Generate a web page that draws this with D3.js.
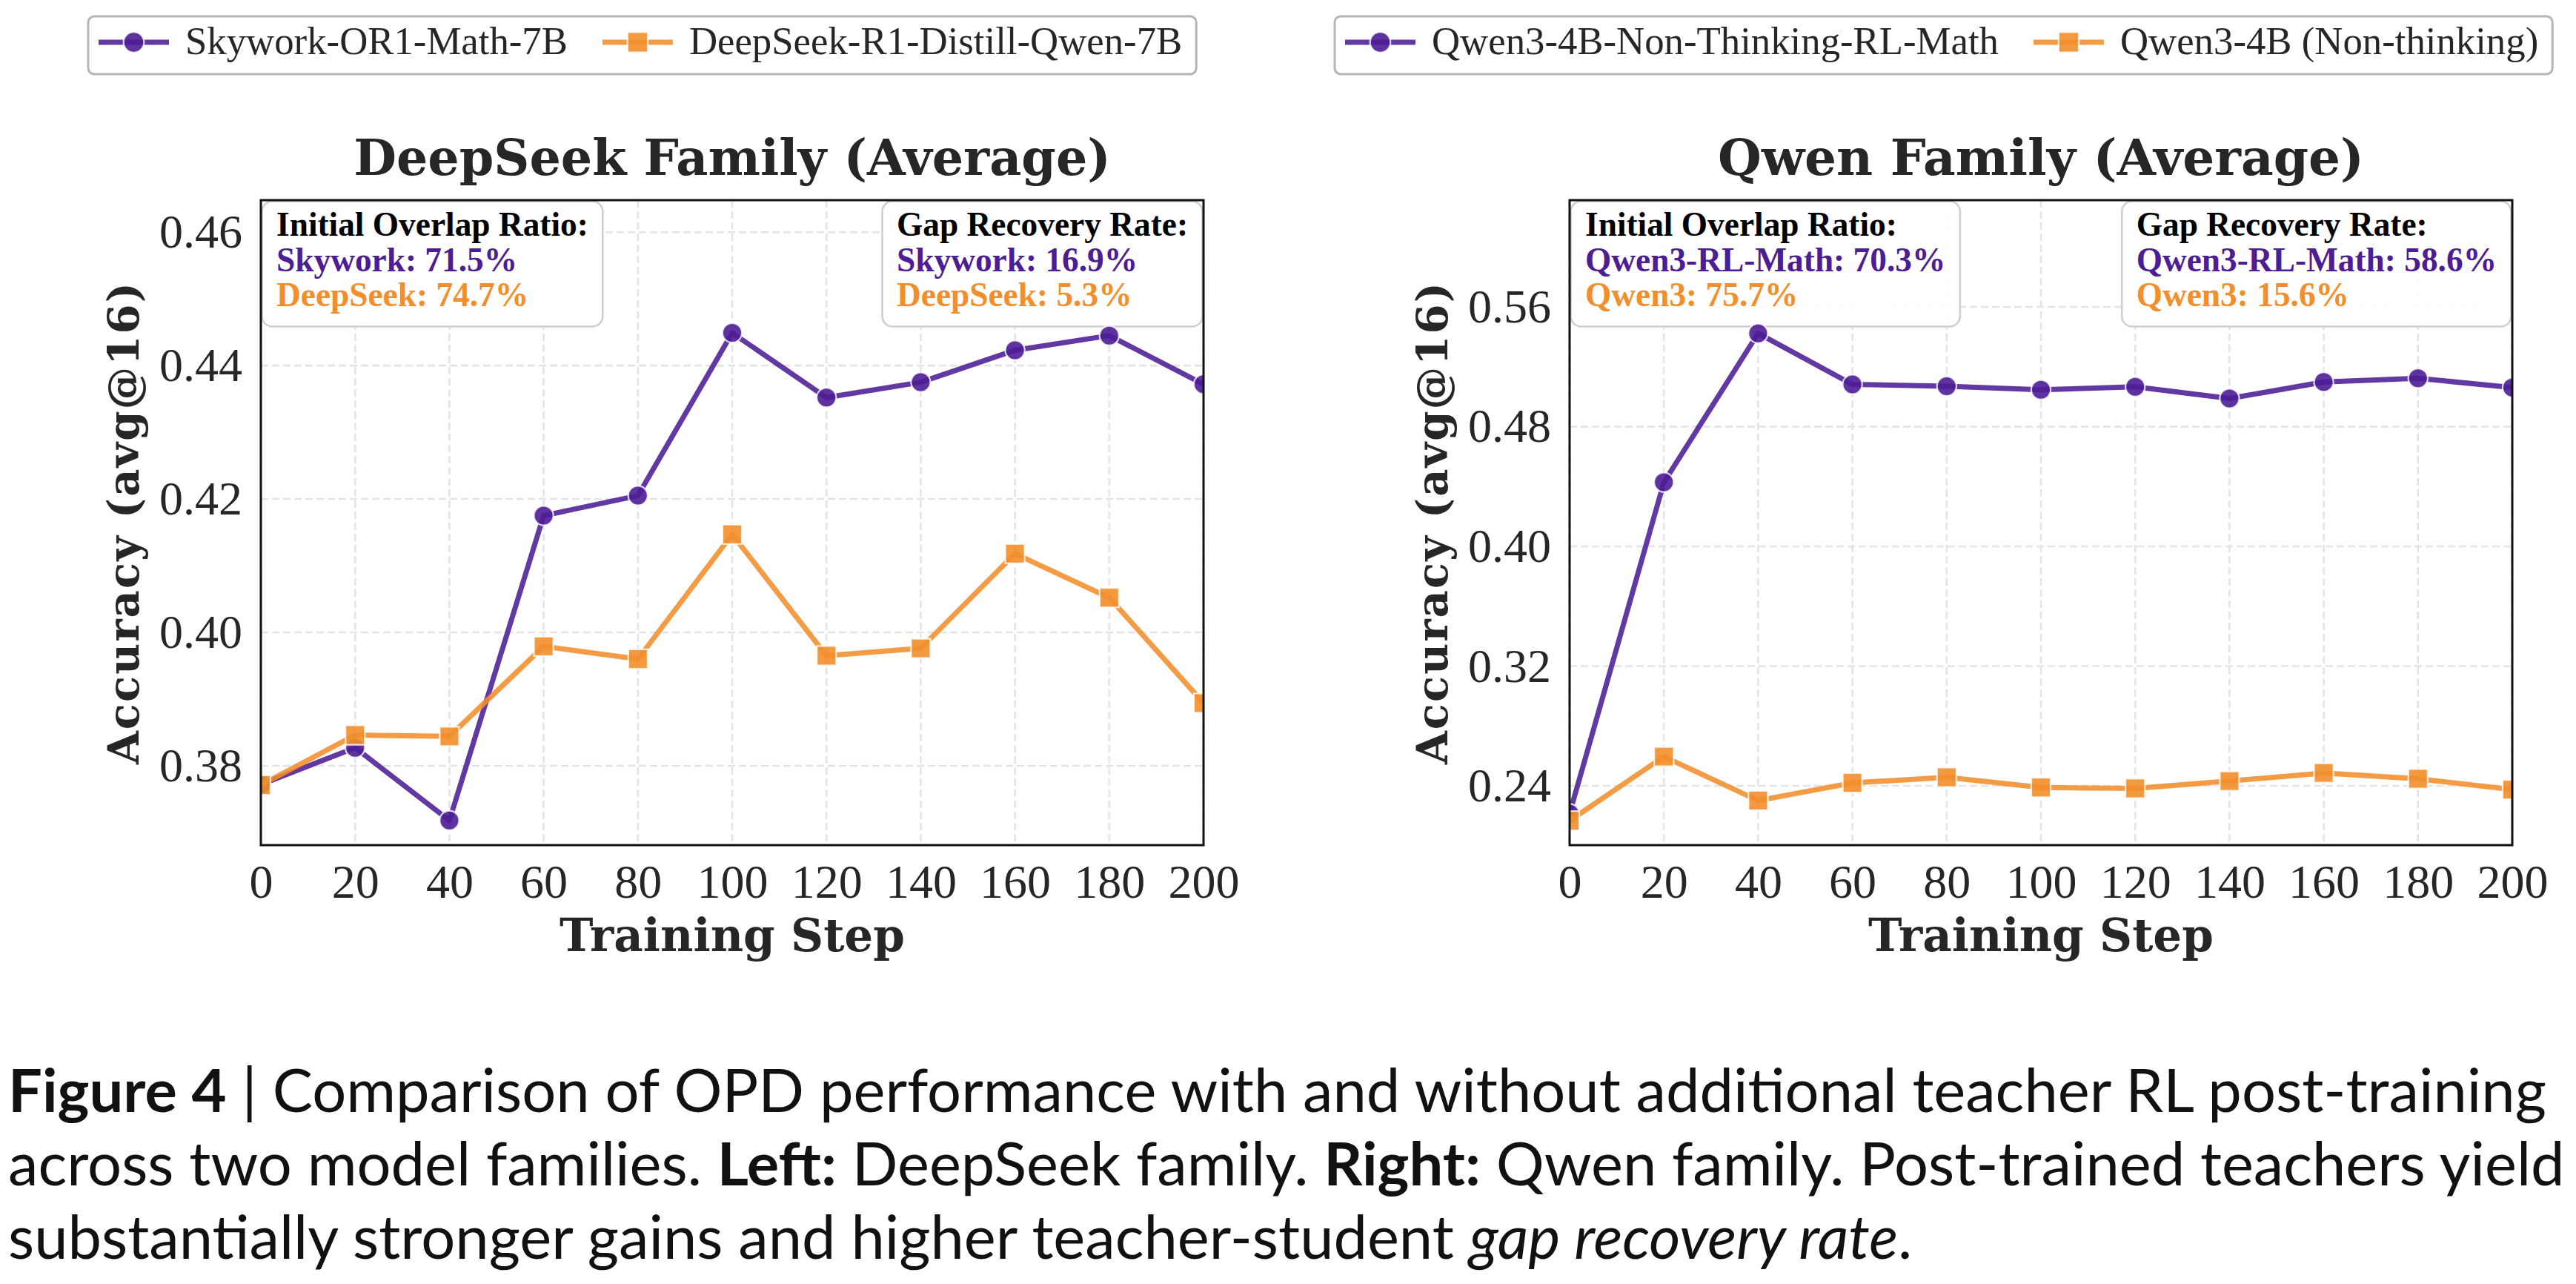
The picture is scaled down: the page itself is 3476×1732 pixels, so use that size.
<!DOCTYPE html>
<html><head><meta charset="utf-8">
<script src="https://cdn.jsdelivr.net/npm/d3@7"></script>
<style>body{margin:0;background:#fff}svg{display:block}</style>
</head><body>
<svg id="chart" width="3476" height="1732"></svg>
<script>
// ---------------- data ----------------
const steps = [0, 20, 40, 60, 80, 100, 120, 140, 160, 180, 200];
const skyworkAcc  = [0.3772, 0.3827, 0.3718, 0.4175, 0.4205, 0.4449, 0.4352, 0.4375, 0.4423, 0.4445, 0.4372];
const deepseekAcc = [0.3771, 0.3846, 0.3844, 0.3979, 0.3960, 0.4147, 0.3965, 0.3976, 0.4118, 0.4052, 0.3894];
const qwenRLAcc   = [0.2215, 0.4428, 0.5423, 0.5082, 0.5070, 0.5046, 0.5066, 0.4988, 0.5098, 0.5123, 0.5061];
const qwenBaseAcc = [0.2167, 0.2595, 0.2302, 0.2420, 0.2457, 0.2389, 0.2383, 0.2432, 0.2486, 0.2447, 0.2375];
const xTickValues = [0, 20, 40, 60, 80, 100, 120, 140, 160, 180, 200];
const leftYTicks  = [0.38, 0.40, 0.42, 0.44, 0.46];
const rightYTicks = [0.24, 0.32, 0.40, 0.48, 0.56];
const leftSeriesNames  = ["Skywork-OR1-Math-7B", "DeepSeek-R1-Distill-Qwen-7B"];
const rightSeriesNames = ["Qwen3-4B-Non-Thinking-RL-Math", "Qwen3-4B (Non-thinking)"];
const leftOverlap  = ["Initial Overlap Ratio:", "Skywork: 71.5%", "DeepSeek: 74.7%"];
const leftGap      = ["Gap Recovery Rate:", "Skywork: 16.9%", "DeepSeek: 5.3%"];
const rightOverlap = ["Initial Overlap Ratio:", "Qwen3-RL-Math: 70.3%", "Qwen3: 75.7%"];
const rightGap     = ["Gap Recovery Rate:", "Qwen3-RL-Math: 58.6%", "Qwen3: 15.6%"];
const titles = ["DeepSeek Family (Average)", "Qwen Family (Average)"];
const xLabel = "Training Step";
const yLabel = "Accuracy (avg@16)";

// ---------------- style ----------------
const PURPLE = "#4C1D95", ORANGE = "#F28E2B", INK = "#262626";
const SERIF = "'Liberation Serif', 'DejaVu Serif', serif";
const SERIF_B = "'DejaVu Serif', 'Liberation Serif', serif";
const svg = d3.select("#chart");
const defs = svg.append("defs");

function fitSize(sel, target) {
  const w = sel.node().getBBox().width;
  return +sel.attr("font-size") * target / w;
}

const panels = [
  {id: "L", x0: 352, x1: 1624, y0: 270, y1: 1140, yDomain: [0.3681, 0.4648], yTicks: leftYTicks,
   series: [skyworkAcc, deepseekAcc], names: leftSeriesNames, boxes: [leftOverlap, leftGap],
   title: titles[0], titleW: 1022, yLabX: 187, legX: 133},
  {id: "R", x0: 2118, x1: 3390, y0: 270, y1: 1140, yDomain: [0.2004, 0.6313], yTicks: rightYTicks,
   series: [qwenRLAcc, qwenBaseAcc], names: rightSeriesNames, boxes: [rightOverlap, rightGap],
   title: titles[1], titleW: 872, yLabX: 1953, legX: 1815}
];

let annFont = null, legFont = null, labFont = null;

panels.forEach(p => {
  const g = svg.append("g");
  const x = d3.scaleLinear().domain([0, 200]).range([p.x0, p.x1]);
  const y = d3.scaleLinear().domain(p.yDomain).range([p.y1, p.y0]);
  const cx = (p.x0 + p.x1) / 2;

  defs.append("clipPath").attr("id", "clip" + p.id).append("rect")
    .attr("x", p.x0).attr("y", p.y0).attr("width", p.x1 - p.x0).attr("height", p.y1 - p.y0);

  // grid
  const grid = g.append("g").attr("stroke", "#e4e4e4").attr("stroke-width", 2.6).attr("stroke-dasharray", "10,5");
  grid.selectAll(".vg").data(xTickValues).join("line")
    .attr("x1", d => x(d)).attr("x2", d => x(d)).attr("y1", p.y0).attr("y2", p.y1);
  grid.selectAll(".hg").data(p.yTicks).join("line")
    .attr("y1", d => y(d)).attr("y2", d => y(d)).attr("x1", p.x0).attr("x2", p.x1);

  // axes
  const xa = g.append("g").attr("transform", `translate(0,${p.y1})`)
    .call(d3.axisBottom(x).tickValues(xTickValues).tickSize(0).tickPadding(26).tickFormat(d3.format("d")));
  const ya = g.append("g").attr("transform", `translate(${p.x0},0)`)
    .call(d3.axisLeft(y).tickValues(p.yTicks).tickSize(0).tickPadding(25).tickFormat(d3.format(".2f")));
  [xa, ya].forEach(a => {
    a.select(".domain").remove();
    a.selectAll("text").attr("font-family", SERIF).attr("font-size", 64).attr("fill", INK);
  });

  // annotation boxes
  p.boxes.forEach((lines, bi) => {
    const bg = g.append("g");
    const texts = lines.map((t, i) => bg.append("text").text(t)
      .attr("y", 318 + i * 47.5)
      .attr("font-family", SERIF).attr("font-weight", "bold").attr("font-size", 40)
      .attr("fill", i === 0 ? "#000" : (i === 1 ? PURPLE : ORANGE)));
    if (annFont === null) annFont = fitSize(texts[0], 421);
    texts.forEach(t => t.attr("font-size", annFont));
    const maxW = d3.max(texts, t => t.node().getBBox().width);
    const bw = maxW + 42;
    const bx = bi === 0 ? p.x0 : p.x1 - bw;
    texts.forEach(t => t.attr("x", bx + 21));
    bg.insert("rect", ":first-child")
      .attr("x", bx + 1.5).attr("y", p.y0 + 1.5).attr("width", bw - 3).attr("height", 169)
      .attr("rx", 14).attr("fill", "#fff").attr("fill-opacity", 0.92)
      .attr("stroke", "#cfcfcf").attr("stroke-width", 2.6);
  });

  // series
  const colors = [PURPLE, ORANGE];
  const sg = g.append("g").attr("clip-path", `url(#clip${p.id})`);
  p.series.forEach((vals, si) => {
    const pts = steps.map((s, i) => [s, vals[i]]);
    sg.append("path").datum(pts)
      .attr("d", d3.line().x(d => x(d[0])).y(d => y(d[1])))
      .attr("fill", "none").attr("stroke", colors[si]).attr("stroke-width", 7)
      .attr("stroke-opacity", 0.88).attr("stroke-linejoin", "round");
    const sym = d3.symbol().type(si === 0 ? d3.symbolCircle : d3.symbolSquare).size(si === 0 ? 540 : 680);
    sg.selectAll(".m" + si).data(pts).join("path")
      .attr("transform", d => `translate(${x(d[0])},${y(d[1])})`)
      .attr("d", sym).attr("fill", colors[si]).attr("fill-opacity", 0.9)
      .attr("stroke", "#fff").attr("stroke-width", 2.2).attr("stroke-opacity", 0.8);
  });

  // spines
  g.append("rect").attr("x", p.x0).attr("y", p.y0).attr("width", p.x1 - p.x0).attr("height", p.y1 - p.y0)
    .attr("fill", "none").attr("stroke", "#111").attr("stroke-width", 3);

  // title
  const tt = g.append("text").text(p.title).attr("x", cx).attr("y", 236).attr("text-anchor", "middle")
    .attr("font-family", SERIF_B).attr("font-weight", "bold").attr("font-size", 66).attr("fill", INK);
  tt.attr("font-size", fitSize(tt, p.titleW));

  // axis labels
  const xl = g.append("text").text(xLabel).attr("x", cx).attr("y", 1283).attr("text-anchor", "middle")
    .attr("font-family", SERIF_B).attr("font-weight", "bold").attr("font-size", 60).attr("fill", INK);
  if (labFont === null) labFont = fitSize(xl, 466);
  xl.attr("font-size", labFont);
  const yl = g.append("text").text(yLabel).attr("text-anchor", "middle")
    .attr("transform", `translate(${p.yLabX},${(p.y0 + p.y1) / 2}) rotate(-90)`)
    .attr("font-family", SERIF_B).attr("font-weight", "bold").attr("font-size", 60).attr("fill", INK)
    .attr("letter-spacing", 2);
  yl.attr("font-size", fitSize(yl, 652));

  // legend
  const lg = svg.append("g");
  let cur = p.legX;
  const ly = 57;
  const endXs = [];
  p.names.forEach((nm, si) => {
    lg.append("line").attr("x1", cur).attr("x2", cur + 95).attr("y1", ly).attr("y2", ly)
      .attr("stroke", colors[si]).attr("stroke-width", 7).attr("stroke-opacity", 0.88);
    const sym = d3.symbol().type(si === 0 ? d3.symbolCircle : d3.symbolSquare).size(si === 0 ? 600 : 740);
    lg.append("path").attr("transform", `translate(${cur + 47.5},${ly})`).attr("d", sym)
      .attr("fill", colors[si]).attr("fill-opacity", 0.9).attr("stroke", "#fff").attr("stroke-width", 2.2).attr("stroke-opacity", 0.8);
    const t = lg.append("text").text(nm).attr("x", cur + 117).attr("y", 73)
      .attr("font-family", SERIF).attr("font-size", 52).attr("fill", INK);
    if (legFont === null) legFont = fitSize(t, 516);
    t.attr("font-size", legFont);
    const w = t.node().getBBox().width;
    cur = cur + 117 + w + 47;
    endXs.push(cur - 47);
  });
  lg.insert("rect", ":first-child").attr("x", p.legX - 14).attr("y", 22)
    .attr("width", endXs[1] + 19 - (p.legX - 14)).attr("height", 78).attr("rx", 8)
    .attr("fill", "#fff").attr("stroke", "#b5b5b5").attr("stroke-width", 3);
});

// ---------------- caption ----------------
const capLines = [
  [["Figure 4", "bold"], [" | Comparison of OPD performance with and without additional teacher RL post-training", "normal"]],
  [["across two model families. ", "normal"], ["Left:", "bold"], [" DeepSeek family. ", "normal"], ["Right:", "bold"], [" Qwen family. Post-trained teachers yield", "normal"]],
  [["substantially stronger gains and higher teacher-student ", "normal"], ["gap recovery rate", "italic"], [".", "normal"]]
];
const capG = svg.append("g");
const capTexts = capLines.map((parts, li) => {
  const t = capG.append("text").attr("x", 11).attr("y", 1500 + li * 99)
    .attr("font-family", "Lato, 'Open Sans', sans-serif").attr("font-size", 74).attr("fill", "#111");
  parts.forEach(([s, st]) => {
    const ts = t.append("tspan").text(s);
    if (st === "bold") ts.attr("font-weight", "bold");
    if (st === "italic") ts.attr("font-style", "italic");
  });
  return t;
});
const capFont = Math.min(fitSize(capTexts[0], 3450), fitSize(capTexts[1], 3450));
capTexts.forEach(t => t.attr("font-size", capFont));
</script>
</body></html>
